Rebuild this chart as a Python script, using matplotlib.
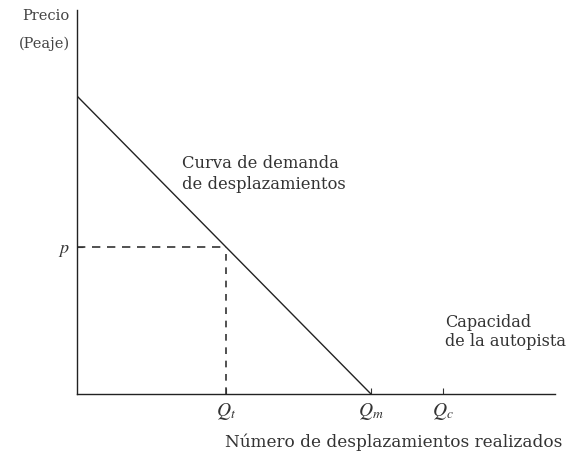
import matplotlib.pyplot as plt

# demand line endpoints (price intercept, max trips) and marked levels
demand_x = [0, 61.5]
demand_y = [77.6, 0]
p_level = 38.3
q_labels = ["$Q_t$", "$Q_m$", "$Q_c$"]
q_capacity = 76.6

plt.rcParams['font.family'] = ['DejaVu Serif']
plt.rcParams['mathtext.fontset'] = 'stix'

fig = plt.figure(figsize=(5.72, 4.55), dpi=100)
ax = fig.add_axes([77 / 572, (455 - 394) / 455, (555 - 77) / 572, 384 / 455])
ax.set_xlim(0, 100)
ax.set_ylim(0, 100)

ax.plot(demand_x, demand_y, color='#222222', lw=1.0)

# quantity demanded at price p
q_t = demand_x[1] * (1 - p_level / demand_y[0])
q_m = demand_x[1]
ax.plot([0, q_t], [p_level, p_level], ls=(0, (5, 4)), color='#333333', lw=1.2)
ax.plot([q_t, q_t], [0, p_level], ls=(0, (4, 4)), color='#333333', lw=1.2)

for s in ['top', 'right']:
    ax.spines[s].set_visible(False)
for s in ['left', 'bottom']:
    ax.spines[s].set_linewidth(1.0)
    ax.spines[s].set_color('#222222')

ax.set_xticks([q_t, q_m, q_capacity])
ax.set_xticklabels(q_labels, fontsize=14, color='#333333')
ax.set_yticks([p_level])
ax.set_yticklabels(['$p$'], fontsize=13, color='#333333')
ax.tick_params(direction='in', length=4, width=0.8, pad=5, color='#333333')

ax.text(-1.5, 98.5, 'Precio', ha='right', va='center', fontsize=10.5,
        color='#444444', clip_on=False)
ax.text(-1.5, 91.2, '(Peaje)', ha='right', va='center', fontsize=10.5,
        color='#444444', clip_on=False)
ax.text(22.0, 57.3, 'Curva de demanda\nde desplazamientos', ha='left', va='center',
        fontsize=11.8, color='#333333', linespacing=1.3)
ax.text(77.0, 16.1, 'Capacidad\nde la autopista', ha='left', va='center',
        fontsize=11.6, color='#333333', linespacing=1.2)
ax.text(66.3, -12.5, 'Número de desplazamientos realizados', ha='center', va='center',
        fontsize=12.2, color='#333333', clip_on=False)

fig.savefig('out.png', dpi=100)
